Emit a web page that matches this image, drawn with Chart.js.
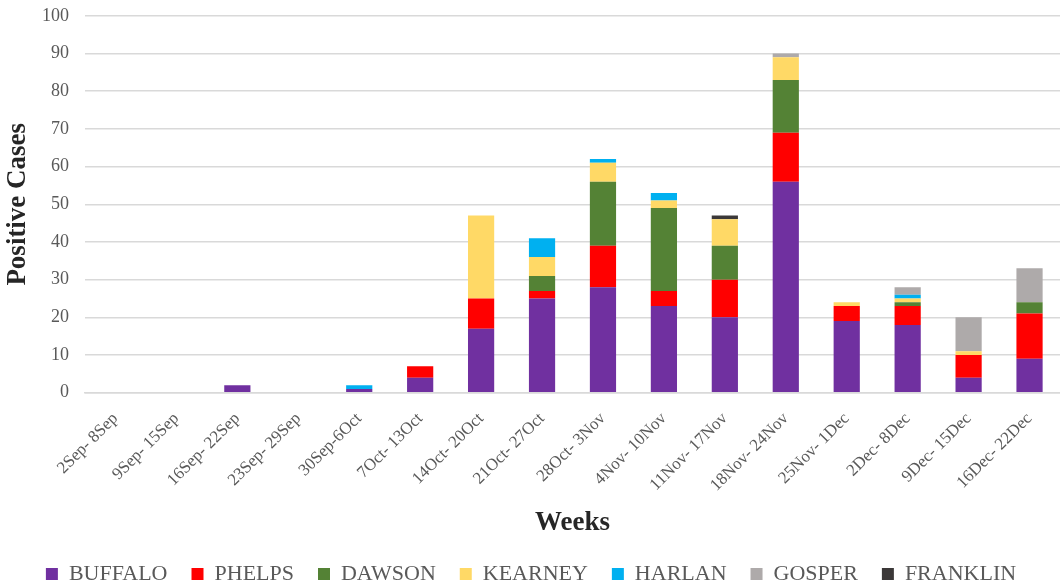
<!DOCTYPE html>
<html>
<head>
<meta charset="utf-8">
<script src="https://cdn.jsdelivr.net/npm/chart.js@4/dist/chart.umd.min.js"></script>
<style>
  html, body { margin: 0; padding: 0; background: #fff; }
  body { width: 1060px; height: 588px; overflow: hidden; }
  /* plot top sits a bit high in the original, so the canvas is nudged up */
  #wrap { width: 1060px; height: 599px; margin-top: -11px; }
</style>
</head>
<body>
<div id="wrap"><canvas id="chart"></canvas></div>
<script>
const weeks = ['2Sep- 8Sep', '9Sep- 15Sep', '16Sep- 22Sep', '23Sep- 29Sep', '30Sep-6Oct',
  '7Oct- 13Oct', '14Oct- 20Oct', '21Oct- 27Oct', '28Oct- 3Nov', '4Nov- 10Nov',
  '11Nov- 17Nov', '18Nov- 24Nov', '25Nov- 1Dec', '2Dec- 8Dec', '9Dec- 15Dec', '16Dec- 22Dec'];

const buffalo  = [0, 0, 2, 0, 1, 4, 17, 25, 28, 23, 20, 56, 19, 18, 4, 9];
const phelps   = [0, 0, 0, 0, 0, 3, 8, 2, 11, 4, 10, 13, 4, 5, 6, 12];
const dawson   = [0, 0, 0, 0, 0, 0, 0, 4, 17, 22, 9, 14, 0, 1, 0, 3];
const kearney  = [0, 0, 0, 0, 0, 0, 22, 5, 5, 2, 7, 6, 1, 1, 1, 0];
const harlan   = [0, 0, 0, 0, 1, 0, 0, 5, 1, 2, 0, 0, 0, 1, 0, 0];
const gosper   = [0, 0, 0, 0, 0, 0, 0, 0, 0, 0, 0, 1, 0, 2, 9, 9];
const franklin = [0, 0, 0, 0, 0, 0, 0, 0, 0, 0, 1, 0, 0, 0, 0, 0];

const yTicks = [0, 10, 20, 30, 40, 50, 60, 70, 80, 90, 100];

const serif = "'Liberation Serif', 'DejaVu Serif', serif";

function ds(label, data, color) {
  return { label: label, data: data, backgroundColor: color, borderWidth: 0,
           barPercentage: 0.43, categoryPercentage: 1.0 };
}

const ctx = document.getElementById('chart').getContext('2d');
new Chart(ctx, {
  type: 'bar',
  data: {
    labels: weeks,
    datasets: [
      ds('BUFFALO', buffalo, '#7030A0'),
      ds('PHELPS', phelps, '#FF0000'),
      ds('DAWSON', dawson, '#548235'),
      ds('KEARNEY', kearney, '#FFD966'),
      ds('HARLAN', harlan, '#00B0F0'),
      ds('GOSPER', gosper, '#AEAAAA'),
      ds('FRANKLIN', franklin, '#3B3838'),
    ]
  },
  options: {
    responsive: true,
    maintainAspectRatio: false,
    animation: false,
    layout: { padding: { left: 2, right: 0, top: 0, bottom: -7 } },
    plugins: {
      tooltip: { enabled: false },
      legend: {
        position: 'bottom',
        labels: {
          color: '#595959',
          font: { family: serif, size: 22 },
          boxWidth: 12,
          boxHeight: 12,
          padding: 24,
        }
      }
    },
    scales: {
      x: {
        stacked: true,
        // rotated labels would otherwise push the plot area to the right
        afterFit: (axis) => { axis.paddingLeft = 0; axis.paddingRight = 0; },
        grid: { display: false },
        border: { display: true, color: '#d9d9d9', width: 1.5 },
        ticks: {
          color: '#595959',
          font: { family: serif, size: 17 },
          maxRotation: 45,
          minRotation: 45,
          autoSkip: false,
          padding: 8,
        },
        title: {
          display: true,
          text: 'Weeks',
          color: '#262626',
          font: { family: serif, size: 27, weight: 'bold' },
          padding: { top: 3, bottom: 0 },
        }
      },
      y: {
        stacked: true,
        min: 0,
        max: 100,
        afterBuildTicks: (axis) => { axis.ticks = yTicks.map(v => ({ value: v })); },
        afterFit: (axis) => { axis.width = 83; },
        grid: { color: '#d9d9d9', lineWidth: 1.5, drawTicks: false },
        border: { display: false },
        ticks: {
          color: '#595959',
          font: { family: serif, size: 18 },
          padding: 16,
        },
        title: {
          display: true,
          text: 'Positive Cases',
          color: '#262626',
          font: { family: serif, size: 27, weight: 'bold' },
          padding: { top: 0, bottom: 4 },
        }
      }
    }
  }
});
</script>
</body>
</html>
